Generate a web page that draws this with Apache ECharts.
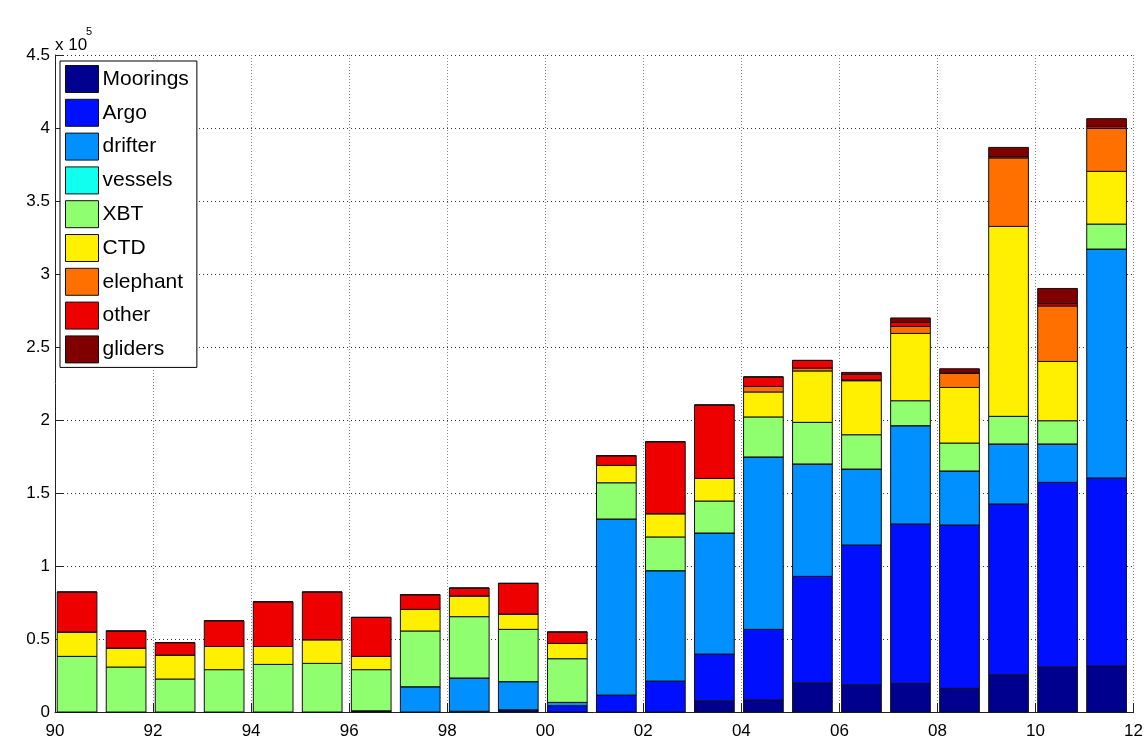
<!DOCTYPE html>
<html>
<head>
<meta charset="utf-8">
<script src="https://cdn.jsdelivr.net/npm/echarts@6/dist/echarts.min.js"></script>
<style>
  html, body { margin: 0; padding: 0; background: #fff; }
  #chart { width: 1146px; height: 745px; }
</style>
</head>
<body>
<div id="chart"></div>
<script>
// Yearly count of ocean profiles by platform type, 1990–2011
const years = [1990, 1991, 1992, 1993, 1994, 1995, 1996, 1997, 1998, 1999, 2000,
               2001, 2002, 2003, 2004, 2005, 2006, 2007, 2008, 2009, 2010, 2011];

const moorings = [0, 0, 0, 0, 0, 0, 800, 0, 500, 1500, 0,
                  0, 0, 7500, 8200, 19900, 18500, 19600, 16200, 25500, 30800, 31500];
const argo     = [0, 0, 0, 0, 0, 0, 0, 0, 0, 0, 4300,
                  11600, 21200, 32200, 48400, 73000, 95900, 109200, 111900, 117000, 126500, 128800];
const drifter  = [0, 0, 0, 0, 0, 0, 0, 17300, 22800, 19300, 2300,
                  120600, 75600, 82900, 118100, 77000, 52000, 67300, 37000, 41100, 26300, 156800];
const vessels  = [0, 0, 0, 0, 0, 0, 0, 0, 0, 0, 0,
                  0, 0, 0, 0, 0, 0, 0, 0, 0, 0, 0];
const xbt      = [38100, 30800, 22600, 29000, 32600, 33300, 28200, 38200, 42000, 35800, 29900,
                  24800, 23100, 21900, 27400, 28500, 23500, 17100, 19100, 18900, 15900, 17100];
const ctd      = [16700, 13000, 16400, 15900, 12300, 16200, 9100, 14800, 14200, 10500, 10500,
                  11900, 15900, 15500, 17100, 35200, 37000, 46100, 38100, 130100, 40600, 36100];
const elephant = [0, 0, 0, 0, 0, 0, 0, 0, 0, 0, 0,
                  0, 0, 0, 3800, 2000, 500, 4800, 9600, 46900, 38000, 29400];
const other    = [27400, 11700, 8500, 17600, 30600, 32700, 26700, 10000, 5400, 21000, 7800,
                  6600, 49300, 50300, 6500, 5200, 3800, 2700, 300, 1000, 1600, 1400];
const gliders  = [0, 0, 0, 0, 0, 0, 0, 0, 0, 0, 0,
                  0, 0, 0, 0, 0, 1400, 3100, 2900, 6200, 10400, 5300];

const seriesNames = ['Moorings', 'Argo', 'drifter', 'vessels', 'XBT', 'CTD', 'elephant', 'other', 'gliders'];
const seriesData  = [moorings, argo, drifter, vessels, xbt, ctd, elephant, other, gliders];
const seriesColors = ['#00008f', '#0010ff', '#0090ff', '#10ffef', '#8fff70', '#ffef00', '#ff7000', '#ef0000', '#800000'];

const yTicks = { min: 0, max: 450000, step: 50000 };

const FONT = 'Liberation Sans, Arial, Helvetica, sans-serif';
const BAR_OFFSET = 0.45;  // bar centre within its year
const BAR_WIDTH = 0.81;   // in years

const chart = echarts.init(document.getElementById('chart'), null, { renderer: 'canvas' });

// running totals so each platform sits on top of the ones below it
const running = years.map(() => 0);
const series = seriesNames.map((name, i) => {
  const data = years.map((y, k) => {
    const base = running[k];
    running[k] += seriesData[i][k];
    return [y + BAR_OFFSET, base, running[k]];
  });
  return {
    name: name,
    type: 'custom',
    itemStyle: { color: seriesColors[i], borderColor: '#111', borderWidth: 1 },
    encode: { x: 0, y: [1, 2] },
    animation: false,
    silent: true,
    renderItem: (params, api) => {
      const x = api.value(0);
      const p0 = api.coord([x, api.value(1)]);
      const p1 = api.coord([x, api.value(2)]);
      const w = api.size([BAR_WIDTH, 0])[0];
      return {
        type: 'rect',
        shape: { x: p0[0] - w / 2, y: p1[1], width: w, height: p0[1] - p1[1] },
        style: { fill: seriesColors[i], stroke: '#111', lineWidth: 1 }
      };
    },
    data: data
  };
});

chart.setOption({
  animation: false,
  backgroundColor: '#fff',
  grid: { left: 55, right: 2, top: 55, bottom: 33, containLabel: false },
  // axis multiplier shown above the y axis
  graphic: [
    { type: 'text', left: 55, top: 37, silent: true,
      style: { text: 'x 10', font: '17px ' + FONT, fill: '#000' } },
    { type: 'text', left: 86, top: 26, silent: true,
      style: { text: '5', font: '11px ' + FONT, fill: '#000' } }
  ],
  legend: {
    orient: 'vertical',
    left: 60,
    top: 61,
    padding: [4, 8, 4, 5],
    itemWidth: 33,
    itemHeight: 27,
    itemGap: 5.8,
    icon: 'rect',
    backgroundColor: '#fff',
    borderColor: '#000',
    borderWidth: 1,
    borderRadius: 0,
    selectedMode: false,
    itemStyle: { borderColor: '#111', borderWidth: 1 },
    textStyle: { fontFamily: FONT, fontSize: 21, color: '#000', padding: [0, 0, 0, -1] },
    data: seriesNames.map((n, i) => ({ name: n, itemStyle: { color: seriesColors[i] } }))
  },
  xAxis: {
    type: 'value',
    min: 1990,
    max: 2012,
    interval: 2,
    axisLine: { show: true, lineStyle: { color: '#222', width: 1 } },
    axisTick: { show: true, inside: true, length: 9, lineStyle: { color: '#222' } },
    axisLabel: {
      margin: 11,
      fontFamily: FONT,
      fontSize: 17,
      color: '#000',
      formatter: v => String(v % 100).padStart(2, '0')
    },
    splitLine: { show: true, lineStyle: { color: '#888', type: [1, 2], width: 1 } }
  },
  yAxis: {
    type: 'value',
    min: yTicks.min,
    max: yTicks.max,
    interval: yTicks.step,
    axisLine: { show: true, lineStyle: { color: '#222', width: 1 } },
    axisTick: { show: true, inside: true, length: 9, lineStyle: { color: '#222' } },
    axisLabel: {
      margin: 5,
      fontFamily: FONT,
      fontSize: 17,
      color: '#000',
      formatter: v => String(v / 100000)
    },
    splitLine: { show: true, lineStyle: { color: '#333', type: [1, 3], width: 1 } }
  },
  series: series
});
</script>
</body>
</html>
